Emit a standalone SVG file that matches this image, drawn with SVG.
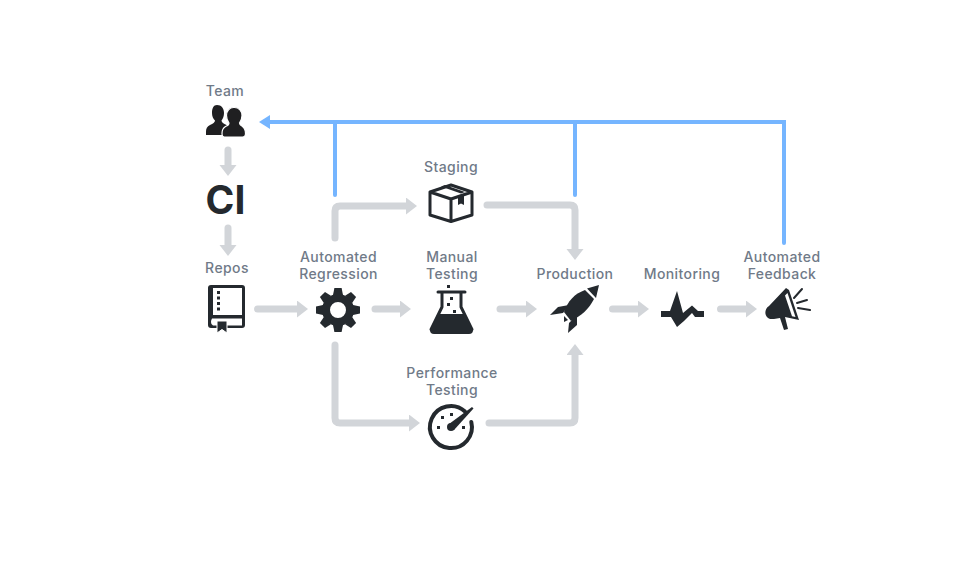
<svg xmlns="http://www.w3.org/2000/svg" width="980" height="565" viewBox="0 0 980 565">
<style>
text{font-family:Inter,"Liberation Sans",sans-serif;font-size:14px;font-weight:500;fill:#707a88;text-anchor:middle;letter-spacing:.4px}
.g{fill:none;stroke:#d2d5d9;stroke-width:7;stroke-linecap:round;stroke-linejoin:round}
.b{fill:none;stroke:#75b5ff;stroke-width:4;stroke-linecap:round;stroke-linejoin:miter}
.i{fill:#24292e}
.o{fill:none;stroke:#24292e;stroke-width:3;stroke-linejoin:round;stroke-linecap:round}
</style>
<defs>
<marker id="ag" markerUnits="userSpaceOnUse" markerWidth="12" markerHeight="18" refX="0" refY="8.500" orient="auto"><path d="M0 0L11 8.500L0 17Z" fill="#d2d5d9"/></marker>
<path id="tooth" d="M-5 -15L-3.600 -22H3.600L5 -15Z" fill="#24292e"/>
</defs>
<g id="connectors">
<path class="g" marker-end="url(#ag)" d="M228 150V165"/>
<path class="g" marker-end="url(#ag)" d="M228 228V245"/>
<path class="g" marker-end="url(#ag)" d="M257.500 309H297"/>
<path class="g" marker-end="url(#ag)" d="M375 309H400"/>
<path class="g" marker-end="url(#ag)" d="M500 309H526"/>
<path class="g" marker-end="url(#ag)" d="M612.500 309H638"/>
<path class="g" marker-end="url(#ag)" d="M720.500 309H746"/>
<path class="g" marker-end="url(#ag)" d="M335 238V211Q335 206 340 206H406"/>
<path class="g" marker-end="url(#ag)" d="M487 205H570Q575 205 575 210V249"/>
<path class="g" marker-end="url(#ag)" d="M335 345V418Q335 423 340 423H409"/>
<path class="g" marker-end="url(#ag)" d="M489 423H570Q575 423 575 418V355"/>
<path class="b" d="M784 243V122H270"/>
<path d="M259 122L270 115V129Z" fill="#75b5ff"/>
<path class="b" d="M335 122V195"/>
<path class="b" d="M575 122V195"/>
</g>
<g id="team">
<text x="225" y="96">Team</text>
<path fill="#1f1f21" d="M217 105c4.500 0 7 3.500 7 8c0 3-1 5.500-2.500 7.500c0 2 2 3 5 4.500c3 1.500 4 4 4 7v3H206v-3.500c0-3 1-5 4-6.500c3-1.500 5-2.500 5-4.500c-2-2-3-4.500-3-7.500c0-4.500 1.500-8 5-8z"/>
<path fill="#1f1f21" stroke="#fff" stroke-width="1.200" d="M234.500 107.500c4.500 0 7.500 3.500 7.500 8c0 3-1 5.500-2.500 7.500c0 2 2 3 3 3.500c2 1.500 3 4 3 7c0 2-1 3.500-3 3.500H224.500c-1.500 0-2.500-1.500-2.500-3.500c0-3 1-5.500 3.500-7c1.500-.500 3.500-1.500 3.500-3.500c-1.500-2-2.500-4.500-2.500-7.500c0-4.500 3-8 7-8z"/>
</g>
<g id="ci"><text x="225.500" y="214" style="font-size:39px;font-weight:700;fill:#24292e;letter-spacing:0">CI</text></g>
<g id="repos">
<text x="227" y="273">Repos</text>
<path class="i" fill-rule="evenodd" d="M211 285H242Q245 285 245 288V325Q245 328 242 328H211Q208 328 208 325V288Q208 285 211 285ZM213 288V315H242V288ZM212 318.500Q211 320 211 322Q211 325 213 325.500H242V318.500Z"/>
<path class="i" stroke="#fff" stroke-width="1" d="M217 321H227V333L222 329.500L217 333Z"/>
<path class="i" d="M217 291h3v3h-3zM217 296.500h3v3h-3zM217 302h3v3h-3zM217 307.500h3v3h-3z"/>
</g>
<g id="regression">
<text x="338.500" y="262">Automated</text><text x="338.500" y="279">Regression</text>
<g transform="translate(338 310)">
<circle r="12" fill="none" stroke="#24292e" stroke-width="8"/>
<use href="#tooth"/><use href="#tooth" transform="rotate(45)"/><use href="#tooth" transform="rotate(90)"/><use href="#tooth" transform="rotate(135)"/><use href="#tooth" transform="rotate(180)"/><use href="#tooth" transform="rotate(225)"/><use href="#tooth" transform="rotate(270)"/><use href="#tooth" transform="rotate(315)"/>
</g>
</g>
<g id="staging">
<text x="451" y="172">Staging</text>
<path class="o" d="M451 185L472 192V215L451 221.500L430 215V192ZM430 192L451 199L472 192M451 199V221.500"/>
<path class="i" d="M441 186.500L445 185L465 192L461 193.500Z"/>
<path class="i" d="M458 196L464 194V205L461 203.500L458 205Z"/>
</g>
<g id="manual">
<text x="452" y="262">Manual</text><text x="452" y="279">Testing</text>
<path class="o" stroke-width="2.500" d="M438 292H465M442 292V307L431 329.500M461 292V307L472 329.500"/>
<path class="i" d="M438 314H465L473 330Q473 334 469 334H434Q430 334 430 330Z"/>
<path class="i" d="M447 285h3v3h-3zM450 297h3v3h-3zM447 303h3v3h-3zM453 310h3v3h-3z"/>
</g>
<g id="production">
<text x="575" y="279">Production</text>
<path class="i" d="M599 285L587 288.500L596 298Z"/>
<path class="i" d="M585 290C574 294 568 301 564 312L571 321C581 316 589 309 594 299Z"/>
<path class="i" d="M550 315L558 307L569 305L563 313ZM568 333L569 323L577 315L577 325ZM564 316L568 320L564 322Z"/>
</g>
<g id="monitoring">
<text x="682" y="279">Monitoring</text>
<path class="i" d="M661 311H670L677 291L683 313L692 305.500L698 311H704V317H695L692 313L684 321L677 327L671 317H661Z"/>
</g>
<g id="feedback">
<text x="782" y="262">Automated</text><text x="782" y="279">Feedback</text>
<path class="i" d="M786 288L789 290L799 320L785 317L788 329L784 330L780 318L774 319L770 319C764 317 764 309 769 306Z"/>
<path fill="#fff" d="M787.500 293L795.500 317L792 316.200L785 295.500Z"/>
<path fill="none" stroke="#24292e" stroke-width="2" stroke-linecap="round" d="M794 298L802 289M797 303L807 300M798 308L810 310"/>
</g>
<g id="performance">
<text x="452" y="378">Performance</text><text x="452" y="395">Testing</text>
<path fill="none" stroke="#24292e" stroke-width="4" stroke-linecap="round" d="M465 411.500A21 21 0 1 0 471.300 422"/>
<circle cx="451" cy="427" r="4" fill="#24292e"/>
<path class="i" d="M449 424L472 407L473.500 408.500L454 430Z"/>
<path class="i" d="M441 416h3v3h-3zM450 413h3v3h-3zM437 426h3v3h-3zM462 426h3v3h-3z"/>
</g>
</svg>
